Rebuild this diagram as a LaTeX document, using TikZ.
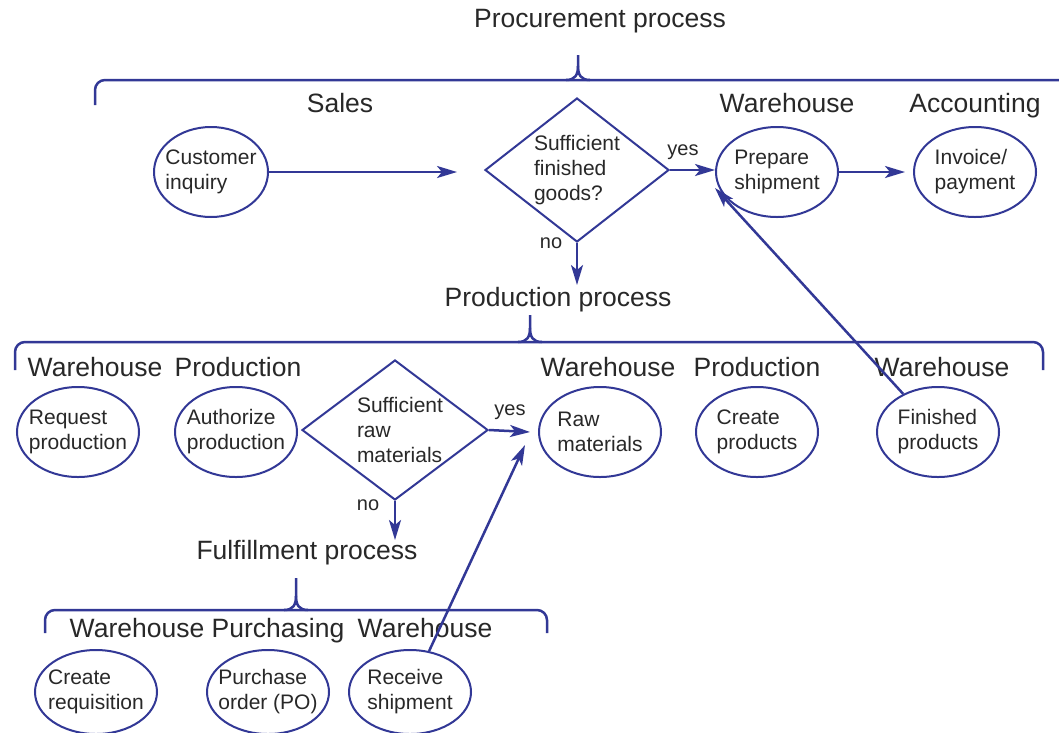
\documentclass[tikz,border=0pt]{standalone}
\usepackage{fontspec}
\setmainfont{Liberation Sans}
\usetikzlibrary{shapes.geometric,arrows.meta}
\definecolor{lc}{RGB}{50,56,150}
\definecolor{tc}{RGB}{40,40,40}
\tikzset{
 proc/.style={ellipse,draw=lc,line width=2pt,minimum width=122pt,minimum height=90pt,inner sep=0pt},
 dec/.style={diamond,draw=lc,line width=2pt,inner sep=0pt},
 ptext/.style={align=left,text=tc,font=\fontsize{21}{25}\selectfont,inner sep=0pt},
 head/.style={text=tc,font=\fontsize{26.5}{30}\selectfont,inner sep=0pt,text height=22pt,text depth=3pt},
 lbl/.style={text=tc,font=\fontsize{20}{24}\selectfont,inner sep=0pt,text height=14pt,text depth=4pt},
 arr/.style={draw=lc,line width=2.5pt,-{Stealth[length=20pt,width=12pt,inset=5pt]}},
 brace/.style={draw=lc,line width=2.5pt},
}
\newcommand\tribrace[6]{%
 \draw[brace,rounded corners=10pt] (#1,#6) |- (#4,#3) -| (#2,#6);
 \draw[brace] (#4-12,#3) .. controls (#4-3,#3) and (#4,#3-5) .. (#4,#3-14) -- (#4,#5);
 \draw[brace] (#4+12,#3) .. controls (#4+3,#3) and (#4,#3-5) .. (#4,#3-14);
}
\begin{document}
\begin{tikzpicture}[x=1pt,y=-1pt]
\useasboundingbox[fill=white] (0,0) rectangle (1059,732);

% ---------- Procurement ----------
\node[head] (t1) at (600,18) {Procurement process};
\tribrace{95}{1080}{80}{578}{55}{105}
\node[head] (s1) at (340,103) {Sales};
\node[head] (s2) at (787,103) {Warehouse};
\node[head] (s3) at (975,103) {Accounting};

\node[proc,minimum width=114pt] (CI) at (211,172) {};
\node[ptext] at (CI) {Customer\\inquiry};
\node[dec,minimum width=184pt,minimum height=144pt] (D1) at (577,170) {};
\node[ptext] at (D1) {Sufficient\\finished\\goods?};
\node[proc] (PS) at (777,172) {};
\node[ptext] at (PS) {Prepare\\shipment};
\node[proc] (IP) at (975,172) {};
\node[ptext] at (IP) {Invoice/\\payment};

\coordinate (a1) at (457,172);
\coordinate (a2) at (715,170);
\coordinate (a3) at (905,172);
\coordinate (a4) at (577,285);
\coordinate (a5) at (715,188);
\draw[arr] (CI) -- (a1);
\draw[arr] (D1.east) -- (a2);
\draw[arr] (PS) -- (a3);
\draw[arr] (D1.south) -- (a4);
\node[lbl] (y1) at (683,150) {yes};
\node[lbl] (n1) at (551,243) {no};

% ---------- Production ----------
\node[head] (t2) at (558,297) {Production process};
\tribrace{15}{1043}{342}{530}{315}{370}
\node[head] (p1) at (95,367) {Warehouse};
\node[head] (p2) at (238,367) {Production};
\node[head] (p3) at (608,367) {Warehouse};
\node[head] (p4) at (757,367) {Production};
\node[head] (p5) at (942,367) {Warehouse};

\node[proc] (RP) at (78,432) {};
\node[ptext] at (RP) {Request\\production};
\node[proc] (AP) at (236,432) {};
\node[ptext] at (AP) {Authorize\\production};
\node[dec,minimum width=186pt,minimum height=140pt] (D2) at (395,430) {};
\node[ptext] at (400,430) {Sufficient\\raw\\materials};
\node[proc] (RM) at (600,432) {};
\node[ptext] at (RM) {Raw\\materials};
\node[proc] (CP) at (757,432) {};
\node[ptext] at (CP) {Create\\products};
\node[proc] (FP) at (938,432) {};
\node[ptext] at (FP) {Finished\\products};

\coordinate (b1) at (530,432);
\coordinate (b2) at (395,540);
\draw[arr] (D2.east) -- (b1);
\draw[arr] (D2.south) -- (b2);
\draw[arr] (FP) -- (a5);
\node[lbl] (y2) at (510,410) {yes};
\node[lbl] (n2) at (368,505) {no};

% ---------- Fulfillment ----------
\node[head] (t3) at (307,550) {Fulfillment process};
\tribrace{45}{547}{610}{296}{578}{633}
\node[head] (f1) at (137,628) {Warehouse};
\node[head] (f2) at (278,628) {Purchasing};
\node[head] (f3) at (425,628) {Warehouse};

\node[proc,minimum height=84pt] (CR) at (96,692) {};
\node[ptext] at (CR) {Create\\requisition};
\node[proc,minimum height=84pt] (PO) at (268,692) {};
\node[ptext] at (PO) {Purchase\\order (PO)};
\node[proc,minimum height=84pt] (RS) at (410,692) {};
\node[ptext] at (RS) {Receive\\shipment};

\coordinate (c1) at (525,445);
\draw[arr] (RS) -- (c1);
\end{tikzpicture}
\end{document}
